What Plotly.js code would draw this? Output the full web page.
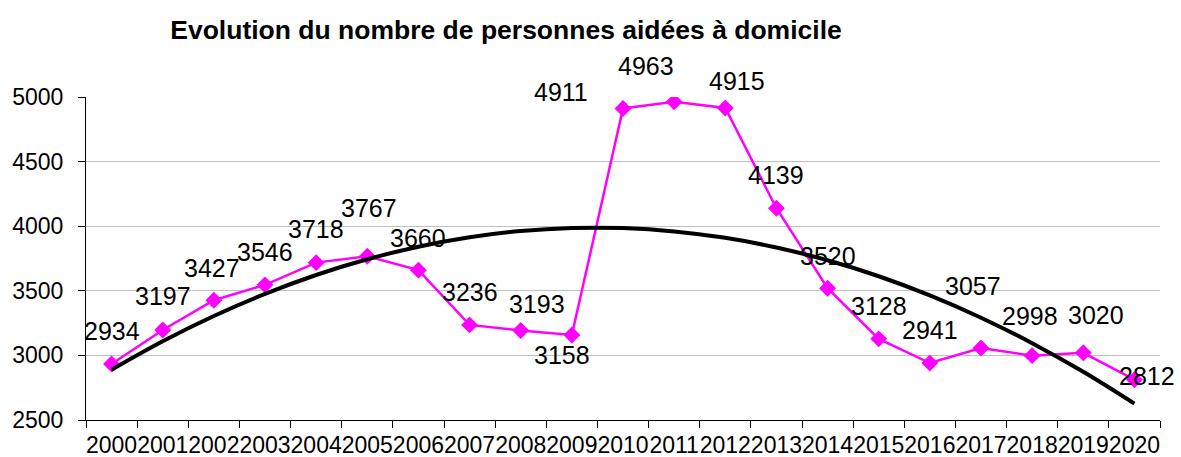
<!DOCTYPE html>
<html>
<head>
<meta charset="utf-8">
<script src="https://cdn.plot.ly/plotly-3.0.1.min.js"></script>
<style>html,body{margin:0;padding:0;background:#fff;}#chart{width:1181px;height:457px;}</style>
</head>
<body>
<div id="chart"></div>
<script>
// ---- data ----
const years = ["2000","2001","2002","2003","2004","2005","2006","2007","2008","2009","2010",
               "2011","2012","2013","2014","2015","2016","2017","2018","2019","2020"];
const persons = [2934,3197,3427,3546,3718,3767,3660,3236,3193,3158,4911,
                 4963,4915,4139,3520,3128,2941,3057,2998,3020,2812];
const yTicks = [2500,3000,3500,4000,4500,5000];
const chartTitle = "Evolution du nombre de personnes aidées à domicile";

// label placement offsets in pixels [dx, dy] (screen coords, dy down)
const labelShift = [[0,-33],[0,-34],[-2,-32],[0,-33],[0,-34],[2,-48],[0,-32],[0,-33],[16,-26],[-10,20],
                    [-62,-17],[-28,-36],[12,-27],[0,-33],[0,-32],[0,-33],[0,-33],[-8,-62],[-2,-40],[13,-38],[13,-4]];

// ---- polynomial (order 2) least-squares trend, as in the spreadsheet ----
function quadFit(ys){
  const n = ys.length;
  let S=[0,0,0,0,0], T=[0,0,0];
  for(let i=0;i<n;i++){
    const x=i+1, y=ys[i];
    let p=1;
    for(let k=0;k<5;k++){ S[k]+=p; if(k<3) T[k]+=p*y; p*=x; }
  }
  const A=[[S[0],S[1],S[2],T[0]],[S[1],S[2],S[3],T[1]],[S[2],S[3],S[4],T[2]]];
  for(let c=0;c<3;c++){
    for(let r=c+1;r<3;r++){
      const f=A[r][c]/A[c][c];
      for(let k=c;k<4;k++) A[r][k]-=f*A[c][k];
    }
  }
  const b=[0,0,0];
  for(let r=2;r>=0;r--){
    let s=A[r][3];
    for(let k=r+1;k<3;k++) s-=A[r][k]*b[k];
    b[r]=s/A[r][r];
  }
  return ys.map((_,i)=>{const x=i+1; return b[0]+b[1]*x+b[2]*x*x;});
}
const trend = quadFit(persons);

const FONT = "Liberation Sans, Arial, Helvetica, sans-serif";

const traces = [
  {
    x: years, y: persons, type: "scatter", mode: "lines+markers",
    line: {color: "#FF00FF", width: 2.5},
    marker: {symbol: "diamond", size: 13, color: "#FF00FF"},
    hoverinfo: "x+y", showlegend: false
  },
  {
    x: years, y: trend, type: "scatter", mode: "lines",
    line: {color: "#000000", width: 4, shape: "spline", smoothing: 1},
    hoverinfo: "skip", showlegend: false
  }
];

// category axis: annotation x given as category index
const annotations = persons.map((v,i)=>({
  x: i, y: v, xref: "x", yref: "y",
  text: String(v), showarrow: false,
  xanchor: "center", yanchor: "middle",
  xshift: labelShift[i][0], yshift: -labelShift[i][1],
  font: {family: FONT, size: 25, color: "#000"}
}));

const layout = {
  width: 1181, height: 457,
  margin: {l: 86, r: 21, t: 97, b: 37, pad: 0},
  paper_bgcolor: "#fff", plot_bgcolor: "#fff",
  font: {family: FONT, color: "#000"},
  title: {
    text: "<b>" + chartTitle + "</b>",
    font: {family: FONT, size: 26.5, color: "#000"},
    xref: "container", yref: "container",
    x: 506/1181, xanchor: "center",
    y: 1 - 30/457, yanchor: "middle"
  },
  xaxis: {
    type: "category", range: [-0.5, 20.5],
    tickson: "boundaries", ticks: "outside", ticklen: 7, tickcolor: "#000", tickwidth: 1,
    showline: true, linecolor: "#000", linewidth: 1,
    showgrid: false, zeroline: false,
    tickfont: {family: FONT, size: 23, color: "#000"},
    ticklabelstandoff: 4,
    tickangle: 0, fixedrange: true
  },
  yaxis: {
    range: [2500, 5000], tickvals: yTicks, ticktext: yTicks.map(String),
    ticks: "outside", ticklen: 7, tickcolor: "#000", tickwidth: 1,
    showline: true, linecolor: "#000", linewidth: 1,
    showgrid: true, gridcolor: "#c0c0c0", gridwidth: 1,
    zeroline: false,
    tickfont: {family: FONT, size: 23, color: "#000"},
    ticklabelstandoff: 10,
    fixedrange: true
  },
  annotations: annotations
};

Plotly.newPlot("chart", traces, layout, {displayModeBar: false, staticPlot: true});
</script>
</body>
</html>
